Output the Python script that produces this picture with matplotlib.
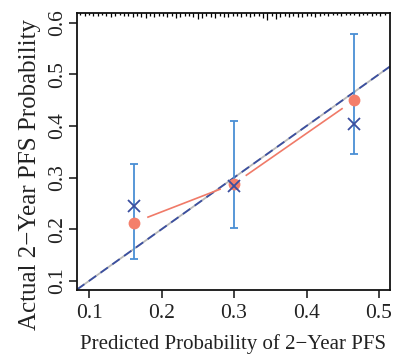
import numpy as np
import matplotlib
matplotlib.use('Agg')
import matplotlib.pyplot as plt
import matplotlib.transforms as mtransforms

# predicted vs observed groups
pred = [0.162, 0.300, 0.466]
obs = [0.213, 0.288, 0.450]          # filled circles
obs_corr = [0.245, 0.283, 0.403]     # crosses
ci_low = [0.142, 0.203, 0.346]
ci_high = [0.327, 0.410, 0.579]

# distribution of predictions shown as spikes along the top
rug_x = [round(0.088 + 0.006 * i, 3) for i in range(71)]
rug_h = [2, 3, 2, 3, 3, 2, 3, 4, 3, 2, 3, 3, 4,
         3, 4, 5, 3, 4, 3, 3, 4, 3, 5, 4, 3, 3,
         4, 6, 5, 3, 4, 5, 3, 4, 4, 3, 3, 4, 3,
         4, 3, 3, 5, 7, 3, 6, 4, 3, 4, 3, 4, 4,
         3, 3, 4, 3, 2, 3, 2, 2, 3, 2, 2, 2, 3,
         2, 2, 3, 2, 3, 2]

plt.rcParams['font.family'] = ['Liberation Serif', 'DejaVu Serif']

fig = plt.figure(figsize=(3.93, 3.57), dpi=100)
ax = fig.add_axes([0.196, 0.188, 0.796, 0.776])
xlim = (0.0834, 0.515)
ylim = (0.0826, 0.619)
ax.set_xlim(xlim)
ax.set_ylim(ylim)

# ideal line: grey solid under navy dashed
ax.plot(xlim, xlim, color='#b8b8b8', lw=1.3, zorder=1)
ax.plot(xlim, xlim, color='#3b4fa0', lw=1.3, dashes=(5, 3), zorder=2)

# connecting line with gaps around the points (type = "b")
fig.canvas.draw()
gap = 15  # pixels
for i in range(len(pred) - 1):
    p0 = ax.transData.transform((pred[i], obs[i]))
    p1 = ax.transData.transform((pred[i + 1], obs[i + 1]))
    d = p1 - p0
    u = d / np.hypot(*d)
    a = ax.transData.inverted().transform(p0 + u * gap)
    b = ax.transData.inverted().transform(p1 - u * gap)
    ax.plot([a[0], b[0]], [a[1], b[1]], color='#f07a68', lw=1.2, zorder=3)

ax.errorbar(pred, obs_corr,
            yerr=[np.subtract(obs_corr, ci_low), np.subtract(ci_high, obs_corr)],
            fmt='none', ecolor='#4a8fd4', elinewidth=1.3, capsize=3, capthick=1.3, zorder=4)
ax.plot(pred, obs, 'o', color='#f47f6b', ms=8.5, mec='none', zorder=5)
ax.plot(pred, obs_corr, 'x', color='#3b4fa0', ms=9, mew=1.3, zorder=6)

trans = mtransforms.blended_transform_factory(ax.transData, ax.transAxes)
ax_h = ax.get_window_extent().height
ax.vlines(rug_x, 1 - np.array(rug_h) / ax_h, 1, transform=trans,
          color='black', lw=0.9, zorder=7)

ax.set_xticks([0.1, 0.2, 0.3, 0.4, 0.5])
ax.set_yticks([0.1, 0.2, 0.3, 0.4, 0.5, 0.6])
ax.set_xticklabels(['0.1', '0.2', '0.3', '0.4', '0.5'])
ax.set_yticklabels(['0.1', '0.2', '0.3', '0.4', '0.5', '0.6'], rotation=90, va='center')
ax.tick_params(direction='out', length=6, width=1.2, labelsize=15.5, colors='#222222')
ax.tick_params(axis='x', pad=4)
ax.tick_params(axis='y', pad=1)
for s in ax.spines.values():
    s.set_linewidth(1.3)
    s.set_color('#111111')

ax.set_xlabel('Predicted Probability of 2\u2212Year PFS', fontsize=15, color='#222222', labelpad=8)
ax.set_ylabel('Actual 2\u2212Year PFS Probability', fontsize=18, color='#222222')
ax.yaxis.set_label_coords(-0.115, 0.415)

fig.savefig('out.png', dpi=100)
